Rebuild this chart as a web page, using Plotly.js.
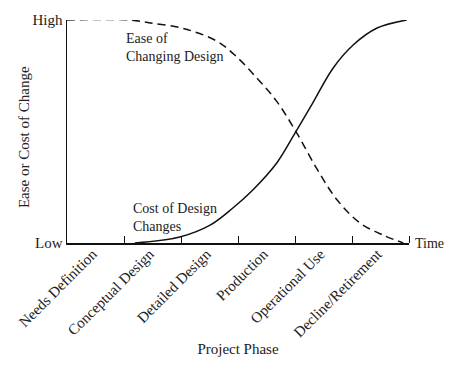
<!DOCTYPE html>
<html>
<head>
<meta charset="utf-8">
<script src="https://cdn.plot.ly/plotly-3.0.1.min.js"></script>
<style>html,body{margin:0;padding:0;background:#fff;}#chart{width:455px;height:370px;}</style>
</head>
<body>
<div id="chart"></div>
<script>
// Project phases (category labels centred in each interval)
const phases = ['Needs Definition', 'Conceptual Design', 'Detailed Design', 'Production', 'Operational Use', 'Decline/Retirement'];
const phaseCenters = [0.5, 1.5, 2.5, 3.5, 4.5, 5.5];
const phaseBounds = [1, 2, 3, 4, 5, 6];

// Cost of design changes (solid curve)
const costX = [1.19, 1.98, 2.51, 2.91, 3.26, 3.68, 4.0, 4.30, 4.67, 5.02, 5.44, 5.96];
const costY = [0, 0.027, 0.08, 0.157, 0.238, 0.359, 0.493, 0.623, 0.785, 0.888, 0.964, 1.0];

// Ease of changing design (dashed curve)
const easeX = [0, 1.1, 1.46, 2.04, 2.63, 2.98, 3.33, 3.68, 4.02, 4.39, 4.74, 5.14, 5.54, 5.9];
const easeY = [1, 1, 0.987, 0.962, 0.905, 0.834, 0.74, 0.635, 0.498, 0.33, 0.193, 0.09, 0.036, 0];

const levelVals = [0, 1];
const levelText = ['Low', 'High'];

const serif = 'Liberation Serif, Times New Roman, serif';
const ink = '#222';

const traces = [
  {x: easeX, y: easeY, mode: 'lines', line: {color: '#111', width: 1.5, dash: '8px,5px', shape: 'spline', smoothing: 1}, hoverinfo: 'skip'},
  {x: costX, y: costY, mode: 'lines', line: {color: '#111', width: 1.5, shape: 'spline', smoothing: 1}, hoverinfo: 'skip'}
];

const layout = {
  width: 455, height: 370,
  margin: {l: 67, r: 46, t: 20, b: 127},
  paper_bgcolor: '#fff', plot_bgcolor: '#fff',
  showlegend: false,
  font: {family: serif, size: 14, color: ink},
  xaxis: {
    range: [0, 6], showgrid: false, zeroline: false,
    showline: true, linecolor: '#111', linewidth: 1.5,
    tickmode: 'array', tickvals: phaseCenters, ticktext: phases,
    ticks: '', tickangle: -45, tickfont: {family: serif, size: 15, color: ink},
    ticklabelstandoff: -5, ticklabelshift: -3,
    minor: {tickmode: 'array', tickvals: phaseBounds, ticks: 'inside', ticklen: 7, tickcolor: '#111', tickwidth: 1},
    title: {text: 'Project Phase', font: {family: serif, size: 15, color: ink}, standoff: 4}
  },
  yaxis: {
    range: [0, 1], showgrid: false, zeroline: false,
    showline: true, linecolor: '#111', linewidth: 1.5,
    tickmode: 'array', tickvals: levelVals, ticktext: levelText,
    ticks: '', tickfont: {family: serif, size: 15, color: ink}
  },
  annotations: [
    {xref: 'paper', yref: 'paper', x: 0, y: 0.475, xshift: -53, text: 'Ease or Cost of Change', textangle: -90,
     showarrow: false, font: {family: serif, size: 15, color: ink}},
    {xref: 'x', yref: 'y', x: 6, y: 0, xanchor: 'left', yanchor: 'middle', xshift: 4, text: 'Time',
     showarrow: false, font: {family: serif, size: 14, color: ink}},
    {xref: 'x', yref: 'y', x: 1.0, y: 0.877, xanchor: 'left', yanchor: 'middle', align: 'left',
     text: 'Ease of<br>Changing Design', showarrow: false, font: {family: serif, size: 14, color: ink}},
    {xref: 'x', yref: 'y', x: 1.12, y: 0.114, xanchor: 'left', yanchor: 'middle', align: 'left',
     text: 'Cost of Design<br>Changes', showarrow: false, font: {family: serif, size: 14, color: ink}}
  ]
};

Plotly.newPlot('chart', traces, layout, {staticPlot: true, displayModeBar: false});
</script>
</body>
</html>
